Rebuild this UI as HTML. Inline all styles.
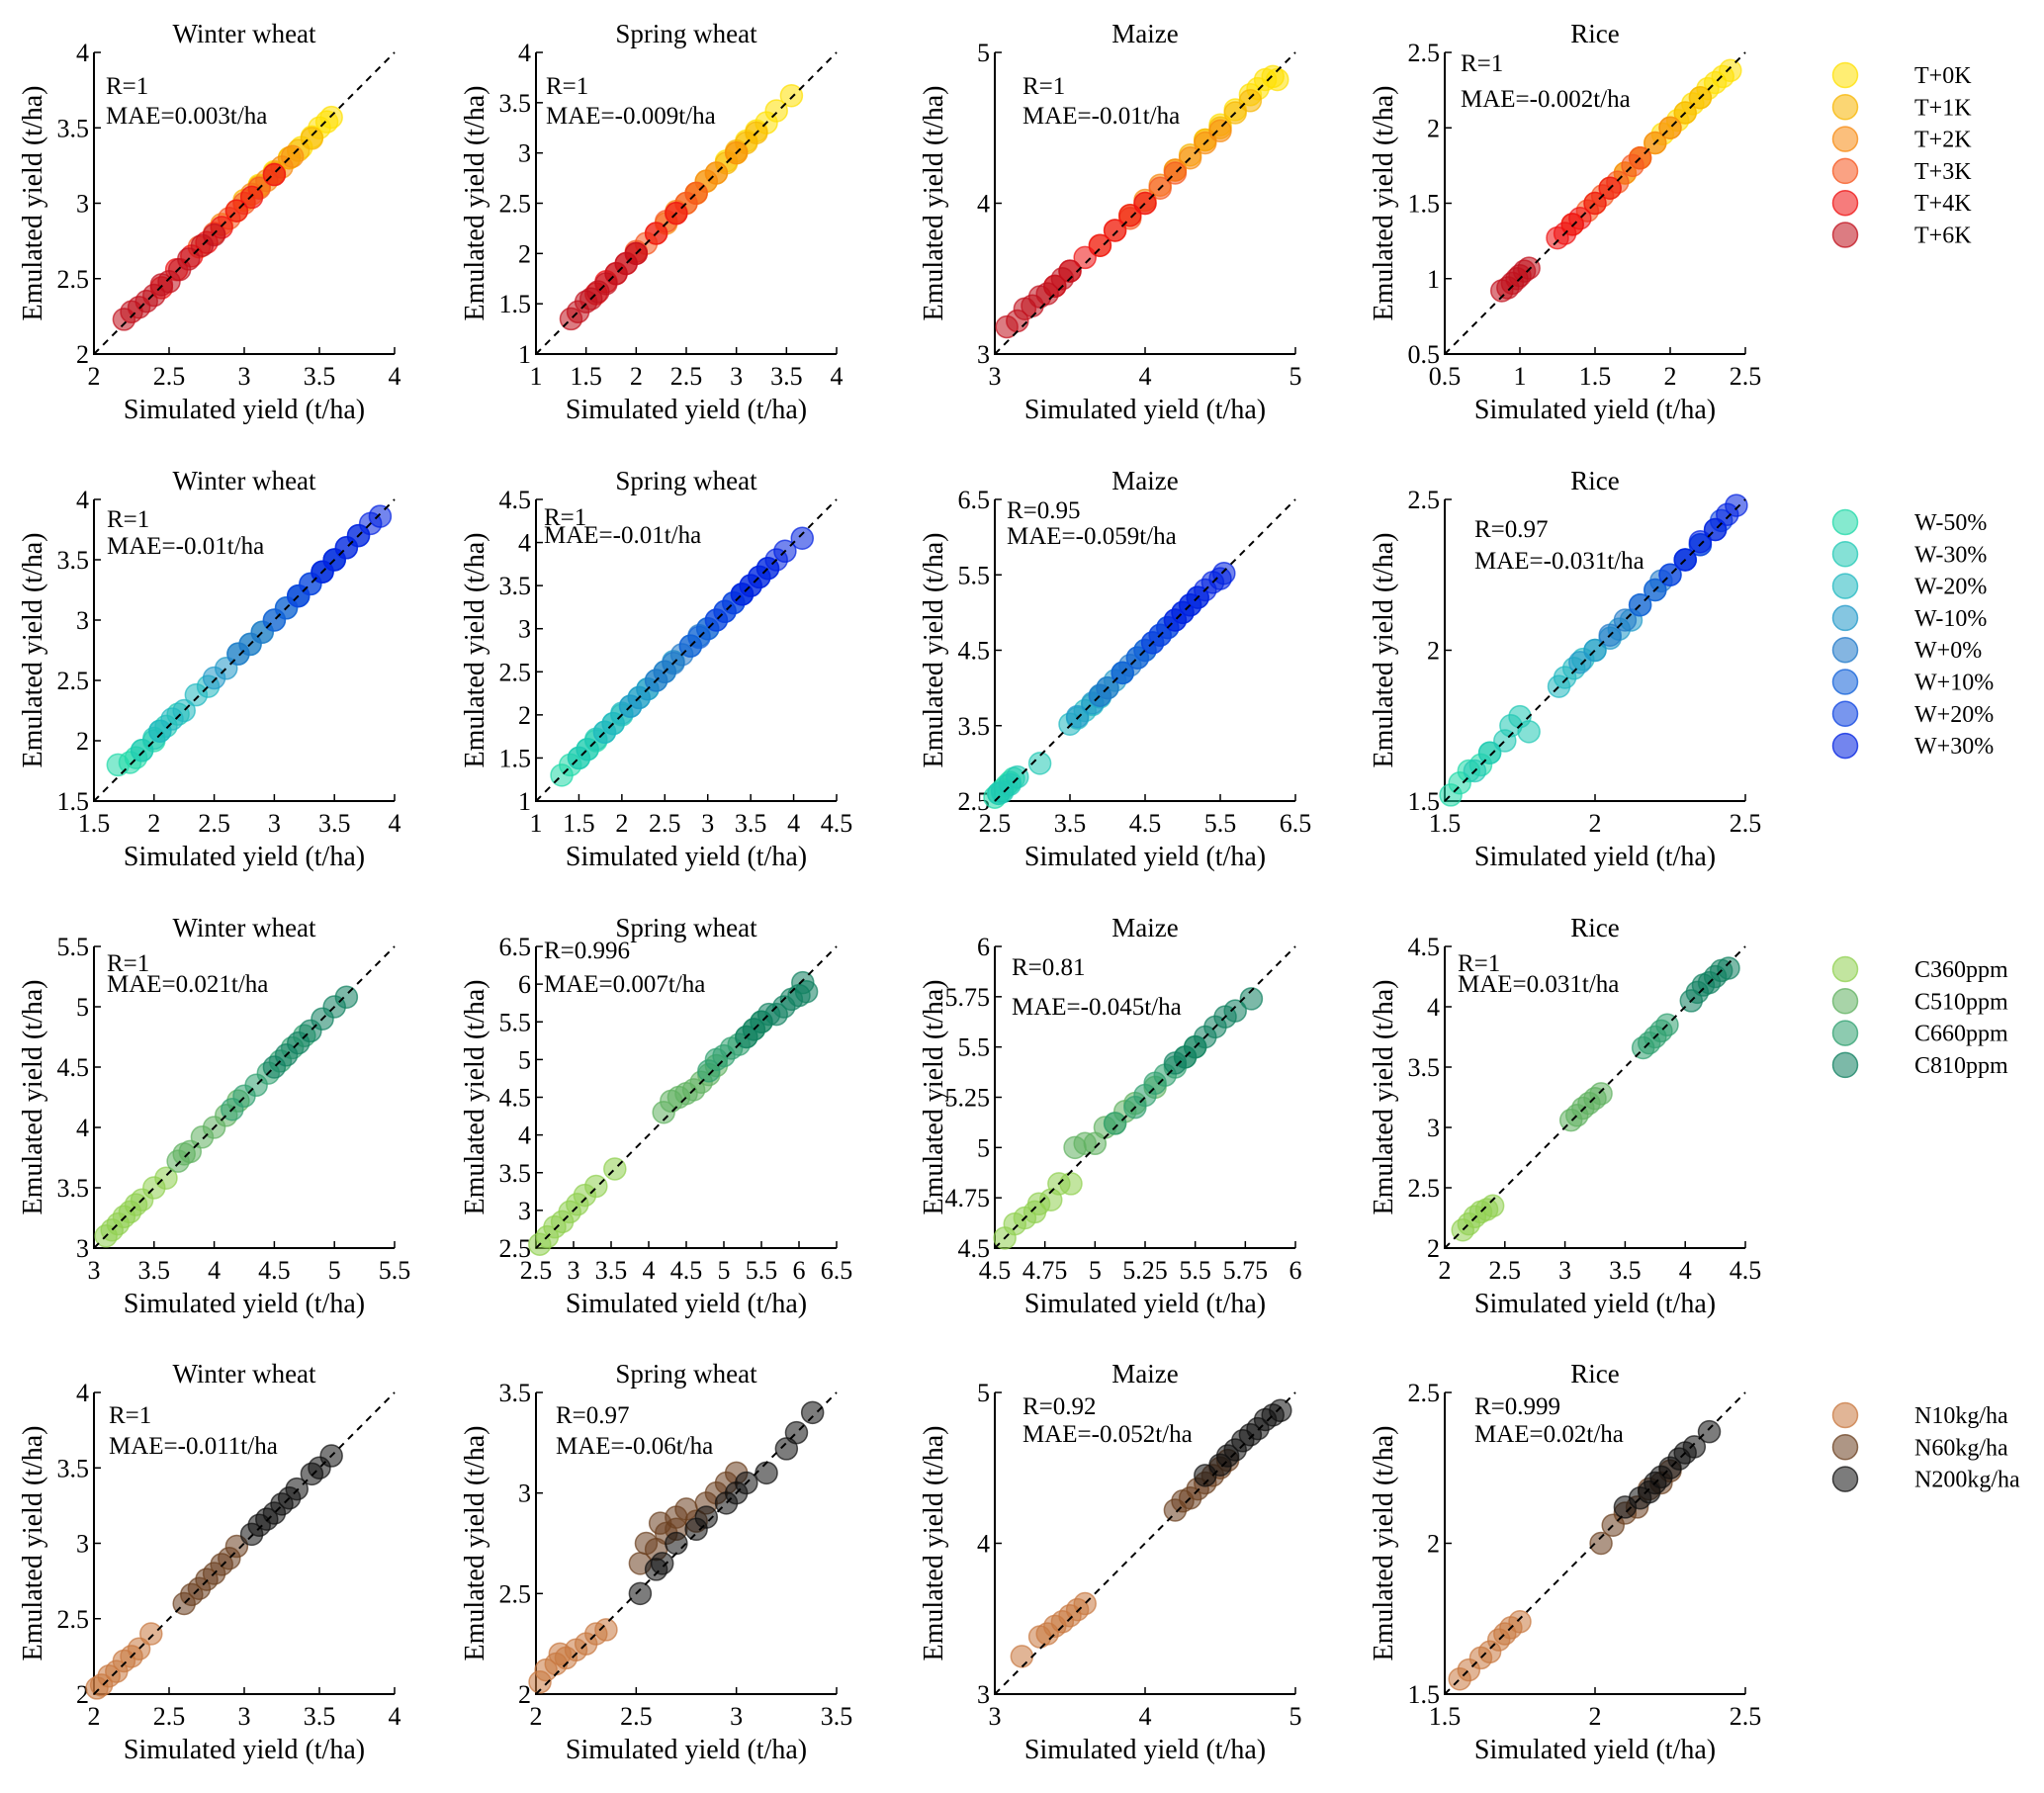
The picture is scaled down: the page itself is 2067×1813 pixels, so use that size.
<!DOCTYPE html>
<html><head><meta charset="utf-8"><title>Emulated vs simulated yield</title>
<style>
html,body{margin:0;padding:0;background:#fff;}
svg{display:block;font-family:"Liberation Serif","Times New Roman",serif;}
</style></head>
<body>
<svg id="fig" width="2067" height="1813" viewBox="0 0 2067 1813"></svg>
<script>
// ===== layout (not data) =====
const colLeft=[95,542,1006,1461], rowTop=[53,505,957,1408], W=304, H=305;
// ===== data =====
const crops=["Winter wheat","Spring wheat","Maize","Rice"];
const tLabels=["T+0K","T+1K","T+2K","T+3K","T+4K","T+6K"];
const tColors=["#ffe000","#f7b500","#f78a10","#f5551e","#ee1010","#c0101c"];
const wLabels=["W-50%","W-30%","W-20%","W-10%","W+0%","W+10%","W+20%","W+30%"];
const wColors=["#20d8a8","#20c8b4","#20b8c0","#2098c8","#1f78c8","#1060d8","#0a40e0","#0020e0"];
const cLabels=["C360ppm","C510ppm","C660ppm","C810ppm"];
const cColors=["#90d050","#60b060","#30a070","#108060"];
const nLabels=["N10kg/ha","N60kg/ha","N200kg/ha"];
const nColors=["#c87840","#6b4020","#101010"];
// axis ranges [min,max,step]
const axes=[[2,4,0.5],[1,4,0.5],[3,5,1],[0.5,2.5,0.5],
 [1.5,4,0.5],[1,4.5,0.5],[2.5,6.5,1],[1.5,2.5,0.5],
 [3,5.5,0.5],[2.5,6.5,0.5],[4.5,6,0.25],[2,4.5,0.5],
 [2,4,0.5],[2,3.5,0.5],[3,5,1],[1.5,2.5,0.5]];
const rVals=["R=1","R=1","R=1","R=1","R=1","R=1","R=0.95","R=0.97","R=1","R=0.996","R=0.81","R=1","R=1","R=0.97","R=0.92","R=0.999"];
const maeVals=["MAE=0.003t/ha","MAE=-0.009t/ha","MAE=-0.01t/ha","MAE=-0.002t/ha","MAE=-0.01t/ha","MAE=-0.01t/ha","MAE=-0.059t/ha","MAE=-0.031t/ha","MAE=0.021t/ha","MAE=0.007t/ha","MAE=-0.045t/ha","MAE=0.031t/ha","MAE=-0.011t/ha","MAE=-0.06t/ha","MAE=-0.052t/ha","MAE=0.02t/ha"];
// simulated (x) and emulated (y) per panel, per group
const sim=[
 [[3.1,3.2,3.3,3.38,3.45,3.5,3.55,3.58],[3.0,3.1,3.2,3.3,3.36,3.45],[2.85,2.95,3.05,3.15,3.25,3.32],[2.7,2.8,2.9,3.0,3.1,3.2],[2.45,2.55,2.65,2.75,2.85,2.95,3.05,3.2],[2.2,2.25,2.3,2.35,2.4,2.45,2.5,2.57,2.63,2.72,2.8]],
 [[2.9,3.0,3.1,3.2,3.3,3.4,3.55],[2.6,2.7,2.8,2.9,3.0,3.1,3.2],[2.3,2.4,2.5,2.6,2.7,2.8,3.0],[2.0,2.1,2.2,2.3,2.4,2.5,2.6],[1.6,1.7,1.8,1.9,2.0,2.2,2.4],[1.35,1.42,1.5,1.55,1.62,1.7,1.8,1.9,2.0]],
 [[4.4,4.5,4.6,4.7,4.75,4.8,4.85,4.88],[4.2,4.3,4.4,4.5,4.6,4.7],[3.9,4.0,4.1,4.2,4.3,4.4,4.5],[3.7,3.8,3.9,4.0,4.1,4.2],[3.4,3.5,3.6,3.7,3.8,3.9,4.0],[3.08,3.15,3.2,3.25,3.3,3.35,3.4,3.45,3.5]],
 [[1.95,2.05,2.1,2.15,2.2,2.25,2.3,2.35,2.4],[1.7,1.8,1.9,2.0,2.1,2.2],[1.5,1.6,1.7,1.8,1.9,2.0],[1.35,1.45,1.55,1.65,1.75,1.8],[1.25,1.3,1.35,1.4,1.5,1.6],[0.88,0.92,0.95,0.98,1.0,1.03,1.06]],
 [[1.7,1.8,1.85,1.9,2.0],[1.9,2.0,2.05,2.1,2.2],[2.05,2.15,2.25,2.35,2.45],[2.5,2.6,2.7,2.8,2.9],[2.7,2.8,2.9,3.0,3.1,3.2],[3.0,3.1,3.2,3.3,3.4,3.5],[3.2,3.3,3.4,3.5,3.6,3.7],[3.4,3.5,3.6,3.7,3.8,3.88]],
 [[1.3,1.4,1.5,1.6,1.7],[1.5,1.6,1.7,1.8,1.9,2.0],[1.8,1.9,2.0,2.1,2.2,2.3],[2.1,2.2,2.3,2.4,2.5,2.6],[2.4,2.5,2.6,2.7,2.8,2.9,3.0],[2.8,2.9,3.0,3.1,3.2,3.3,3.4],[3.1,3.2,3.3,3.4,3.5,3.6,3.7],[3.4,3.5,3.6,3.7,3.8,3.9,4.1]],
 [[2.5,2.55,2.6,2.65,2.7,2.75],[2.55,2.6,2.7,2.8,3.1],[3.5,3.6,3.7,3.8,3.9],[3.6,3.8,3.9,4.0,4.1,4.2],[3.9,4.0,4.2,4.3,4.4,4.5],[4.2,4.4,4.5,4.6,4.7,4.8],[4.6,4.7,4.8,4.9,5.0,5.1,5.2],[4.9,5.0,5.1,5.2,5.3,5.4,5.5,5.55]],
 [[1.52,1.55,1.58,1.62,1.65],[1.6,1.65,1.7,1.72,1.75,1.78],[1.88,1.9,1.93,1.96,2.0],[1.95,2.0,2.05,2.08,2.12],[2.05,2.1,2.15,2.2,2.22],[2.15,2.2,2.25,2.3,2.35],[2.25,2.3,2.35,2.4,2.42],[2.3,2.35,2.4,2.44,2.47]],
 [[3.1,3.15,3.2,3.25,3.3,3.35,3.4,3.5,3.6],[3.7,3.75,3.8,3.9,4.0,4.1,4.2],[4.15,4.25,4.35,4.45,4.55,4.65,4.75],[4.5,4.6,4.7,4.8,4.9,5.0,5.1]],
 [[2.55,2.65,2.75,2.85,2.95,3.05,3.15,3.3,3.55],[4.2,4.3,4.4,4.5,4.6,4.7,4.8,4.9],[4.8,4.9,5.0,5.1,5.2,5.3,5.4,5.5],[5.3,5.4,5.5,5.6,5.7,5.8,5.9,6.0,6.1,6.05]],
 [[4.55,4.6,4.65,4.7,4.72,4.78,4.82,4.88],[4.9,4.95,5.0,5.05,5.1,5.15,5.2,5.3],[5.1,5.2,5.25,5.3,5.35,5.4,5.45,5.5],[5.4,5.45,5.5,5.55,5.6,5.65,5.7,5.78]],
 [[2.15,2.2,2.25,2.3,2.35,2.4],[3.05,3.1,3.15,3.2,3.25,3.3],[3.65,3.7,3.75,3.8,3.85],[4.05,4.1,4.15,4.2,4.25,4.3,4.36]],
 [[2.02,2.05,2.1,2.15,2.2,2.25,2.3,2.38],[2.6,2.65,2.7,2.75,2.8,2.85,2.9,2.95],[3.05,3.1,3.15,3.2,3.25,3.3,3.35,3.45,3.5,3.58]],
 [[2.02,2.05,2.1,2.12,2.15,2.2,2.25,2.3,2.35],[2.52,2.55,2.6,2.65,2.7,2.75,2.8,2.85,2.9,2.95,3.0,2.7,2.62],[2.52,2.6,2.63,2.7,2.8,2.85,2.95,3.0,3.05,3.15,3.25,3.3,3.38]],
 [[3.18,3.3,3.35,3.4,3.45,3.5,3.55,3.6],[4.2,4.25,4.3,4.35,4.4,4.45,4.5,4.55],[4.4,4.5,4.55,4.6,4.65,4.7,4.75,4.8,4.85,4.9]],
 [[1.55,1.58,1.62,1.65,1.68,1.7,1.72,1.75],[2.02,2.06,2.1,2.14,2.18,2.22,2.25],[2.1,2.15,2.18,2.2,2.22,2.25,2.28,2.3,2.33,2.38]]
];
const emu=[
 [[3.12,3.21,3.3,3.37,3.44,3.5,3.54,3.57],[3.02,3.11,3.2,3.3,3.35,3.43],[2.86,2.95,3.06,3.15,3.24,3.31],[2.71,2.8,2.9,3.0,3.1,3.19],[2.44,2.56,2.65,2.74,2.84,2.95,3.04,3.19],[2.23,2.28,2.31,2.35,2.39,2.46,2.48,2.56,2.63,2.72,2.79]],
 [[2.92,3.0,3.12,3.22,3.3,3.42,3.57],[2.6,2.72,2.8,2.9,3.02,3.1,3.2],[2.3,2.42,2.5,2.6,2.72,2.8,3.0],[2.02,2.1,2.2,2.32,2.4,2.5,2.6],[1.6,1.72,1.8,1.9,2.0,2.2,2.4],[1.35,1.42,1.52,1.55,1.62,1.7,1.8,1.9,2.0]],
 [[4.42,4.52,4.62,4.72,4.76,4.82,4.84,4.82],[4.22,4.32,4.42,4.5,4.6,4.68],[3.92,4.02,4.12,4.22,4.3,4.4,4.48],[3.72,3.82,3.9,4.0,4.1,4.2],[3.45,3.55,3.64,3.72,3.82,3.92,4.0],[3.18,3.22,3.3,3.32,3.38,3.4,3.45,3.5,3.55]],
 [[1.96,2.05,2.1,2.16,2.2,2.26,2.3,2.34,2.38],[1.7,1.8,1.9,2.0,2.1,2.2],[1.5,1.6,1.7,1.8,1.9,2.0],[1.36,1.45,1.55,1.64,1.75,1.8],[1.27,1.3,1.36,1.4,1.5,1.6],[0.92,0.94,0.97,1.0,1.02,1.05,1.07]],
 [[1.8,1.82,1.86,1.92,2.0],[1.92,2.02,2.08,2.12,2.22],[2.08,2.18,2.25,2.38,2.45],[2.52,2.6,2.72,2.8,2.9],[2.72,2.8,2.9,3.0,3.1,3.2],[3.0,3.1,3.2,3.3,3.4,3.5],[3.2,3.3,3.4,3.5,3.6,3.7],[3.4,3.5,3.6,3.7,3.8,3.86]],
 [[1.3,1.42,1.5,1.6,1.7],[1.5,1.6,1.72,1.8,1.9,2.0],[1.8,1.9,2.02,2.1,2.2,2.3],[2.1,2.2,2.3,2.4,2.5,2.62],[2.4,2.5,2.6,2.7,2.8,2.92,3.0],[2.8,2.9,3.0,3.1,3.2,3.3,3.4],[3.1,3.2,3.3,3.4,3.5,3.6,3.7],[3.4,3.5,3.6,3.7,3.8,3.9,4.05]],
 [[2.55,2.6,2.65,2.7,2.75,2.8],[2.6,2.62,2.72,2.82,3.0],[3.52,3.6,3.7,3.78,3.88],[3.62,3.8,3.9,4.0,4.1,4.2],[3.9,4.0,4.2,4.3,4.4,4.5],[4.2,4.4,4.5,4.6,4.7,4.8],[4.6,4.7,4.8,4.9,5.0,5.1,5.2],[4.9,5.0,5.1,5.2,5.3,5.4,5.45,5.52]],
 [[1.52,1.56,1.6,1.62,1.66],[1.6,1.66,1.7,1.75,1.78,1.73],[1.88,1.91,1.94,1.97,2.0],[1.96,2.0,2.04,2.07,2.1],[2.05,2.1,2.15,2.2,2.23],[2.15,2.2,2.25,2.3,2.35],[2.25,2.3,2.35,2.4,2.43],[2.3,2.36,2.4,2.45,2.48]],
 [[3.1,3.15,3.2,3.26,3.3,3.36,3.4,3.5,3.58],[3.72,3.78,3.8,3.92,4.0,4.1,4.22],[4.15,4.26,4.35,4.45,4.55,4.66,4.76],[4.5,4.6,4.7,4.8,4.9,5.0,5.08]],
 [[2.55,2.65,2.78,2.85,2.98,3.08,3.2,3.32,3.55],[4.3,4.45,4.5,4.55,4.6,4.7,4.8,4.92],[4.85,5.0,5.05,5.15,5.2,5.3,5.4,5.5],[5.3,5.4,5.5,5.6,5.6,5.7,5.8,5.85,5.9,6.02]],
 [[4.55,4.62,4.65,4.68,4.72,4.74,4.82,4.82],[5.0,5.02,5.02,5.1,5.12,5.18,5.22,5.3],[5.12,5.2,5.26,5.32,5.36,5.4,5.45,5.5],[5.42,5.45,5.5,5.55,5.6,5.65,5.68,5.74]],
 [[2.15,2.2,2.26,2.3,2.32,2.35],[3.06,3.1,3.16,3.2,3.24,3.28],[3.66,3.7,3.75,3.8,3.85],[4.05,4.12,4.18,4.2,4.25,4.3,4.32]],
 [[2.04,2.06,2.12,2.15,2.22,2.25,2.3,2.4],[2.6,2.66,2.7,2.76,2.8,2.86,2.9,2.98],[3.06,3.12,3.16,3.2,3.26,3.3,3.36,3.46,3.5,3.58]],
 [[2.06,2.12,2.15,2.2,2.18,2.22,2.25,2.3,2.32],[2.65,2.75,2.72,2.8,2.88,2.92,2.86,2.95,3.0,3.05,3.1,2.82,2.85],[2.5,2.62,2.65,2.75,2.82,2.88,2.95,3.0,3.05,3.1,3.22,3.3,3.4]],
 [[3.25,3.38,3.4,3.45,3.48,3.52,3.56,3.6],[4.22,4.28,4.3,4.36,4.4,4.45,4.5,4.55],[4.45,4.52,4.58,4.62,4.68,4.72,4.76,4.82,4.85,4.88]],
 [[1.55,1.58,1.62,1.64,1.68,1.7,1.72,1.74],[2.0,2.06,2.1,2.12,2.18,2.2,2.24],[2.12,2.15,2.17,2.2,2.22,2.25,2.28,2.3,2.32,2.37]]
];
// ===== drawing =====
const NS="http://www.w3.org/2000/svg";
const svg=document.getElementById('fig');
function mk(tag,attrs,parent){const e=document.createElementNS(NS,tag);for(const k in attrs)e.setAttribute(k,attrs[k]);(parent||svg).appendChild(e);return e;}
function fmt(v){return String(Math.round(v*100)/100);}
const rowLabels=[tLabels,wLabels,cLabels,nLabels], rowColors=[tColors,wColors,cColors,nColors];
const annot=[[12,42,72],[10,42,72],[28,42,72],[16,19,55],
 [13,28,55],[8,26,44],[12,19,45],[30,38,70],
 [13,25,46],[8,12,46],[17,29,69],[13,25,46],
 [15,31,62],[20,31,62],[28,22,50],[30,22,50]];
for(let p=0;p<16;p++){
  const r=Math.floor(p/4), c=p%4, L=colLeft[c], T=rowTop[r];
  const [mn,mx,st]=axes[p];
  const sx=v=>L+(v-mn)/(mx-mn)*W, sy=v=>T+H-(v-mn)/(mx-mn)*H;
  const g=mk('g',{});
  
  
  const title=mk('text',{x:L+W/2,y:T-10,'text-anchor':'middle','font-size':27},g);
  title.textContent=crops[c];
  
  
  const ax=mk('path',{d:`M${L} ${T}V${T+H}H${L+W}`,fill:'none',stroke:'#000','stroke-width':2},g);
  
  
  const n=Math.round((mx-mn)/st);
  for(let i=0;i<=n;i++){
    const v=mn+i*st;
    mk('line',{x1:sx(v),x2:sx(v),y1:T+H,y2:T+H-7,stroke:'#000','stroke-width':1.5},g);
    mk('line',{x1:L,x2:L+7,y1:sy(v),y2:sy(v),stroke:'#000','stroke-width':1.5},g);
    const xt=mk('text',{x:sx(v),y:T+H+31,'text-anchor':'middle','font-size':26},g);
    xt.textContent=fmt(v);
    
    
    const yt=mk('text',{x:L-5,y:sy(v)+9,'text-anchor':'end','font-size':26},g);
    yt.textContent=fmt(v);
    
    
  }
  const xl=mk('text',{x:L+W/2,y:T+H+65,'text-anchor':'middle','font-size':28},g);
  xl.textContent='Simulated yield (t/ha)';
  
  
  const yl=mk('text',{x:0,y:0,'text-anchor':'middle','font-size':28,transform:`translate(${L-62},${T+H/2}) rotate(-90) translate(0,9)`},g);
  yl.textContent='Emulated yield (t/ha)';
  
  
  const cols=rowColors[r];
  sim[p].forEach((xs,gi)=>{
    xs.forEach((xv,k)=>{
      const yv=emu[p][gi][k];
      const pt=mk('circle',{cx:sx(xv),cy:sy(yv),r:11,fill:cols[gi],'fill-opacity':0.55,stroke:cols[gi],'stroke-opacity':0.7,'stroke-width':1.5},g);
      
      
    });
  });
  const dl=mk('line',{x1:sx(mn),y1:sy(mn),x2:sx(mx),y2:sy(mx),stroke:'#000','stroke-width':2,'stroke-dasharray':'7,6'},g);
  
  
  const a=annot[p];
  const rt=mk('text',{x:L+a[0],y:T+a[1],'font-size':25},g);
  rt.textContent=rVals[p];
  
  
  const mt=mk('text',{x:L+a[0],y:T+a[2],'font-size':25},g);
  mt.textContent=maeVals[p];
  
  
}
for(let r=0;r<4;r++){
  const lg=mk('g',{});
  
  
  rowLabels[r].forEach((lab,i)=>{
    const y=rowTop[r]+23+i*32.3;
    const m=mk('circle',{cx:1866,cy:y,r:12.5,fill:rowColors[r][i],'fill-opacity':0.55,stroke:rowColors[r][i],'stroke-opacity':0.75,'stroke-width':1.5},lg);
    
    
    const t=mk('text',{x:1936,y:y+8,'font-size':24},lg);
    t.textContent=lab;
    
    
  });
}
</script>
</body></html>
